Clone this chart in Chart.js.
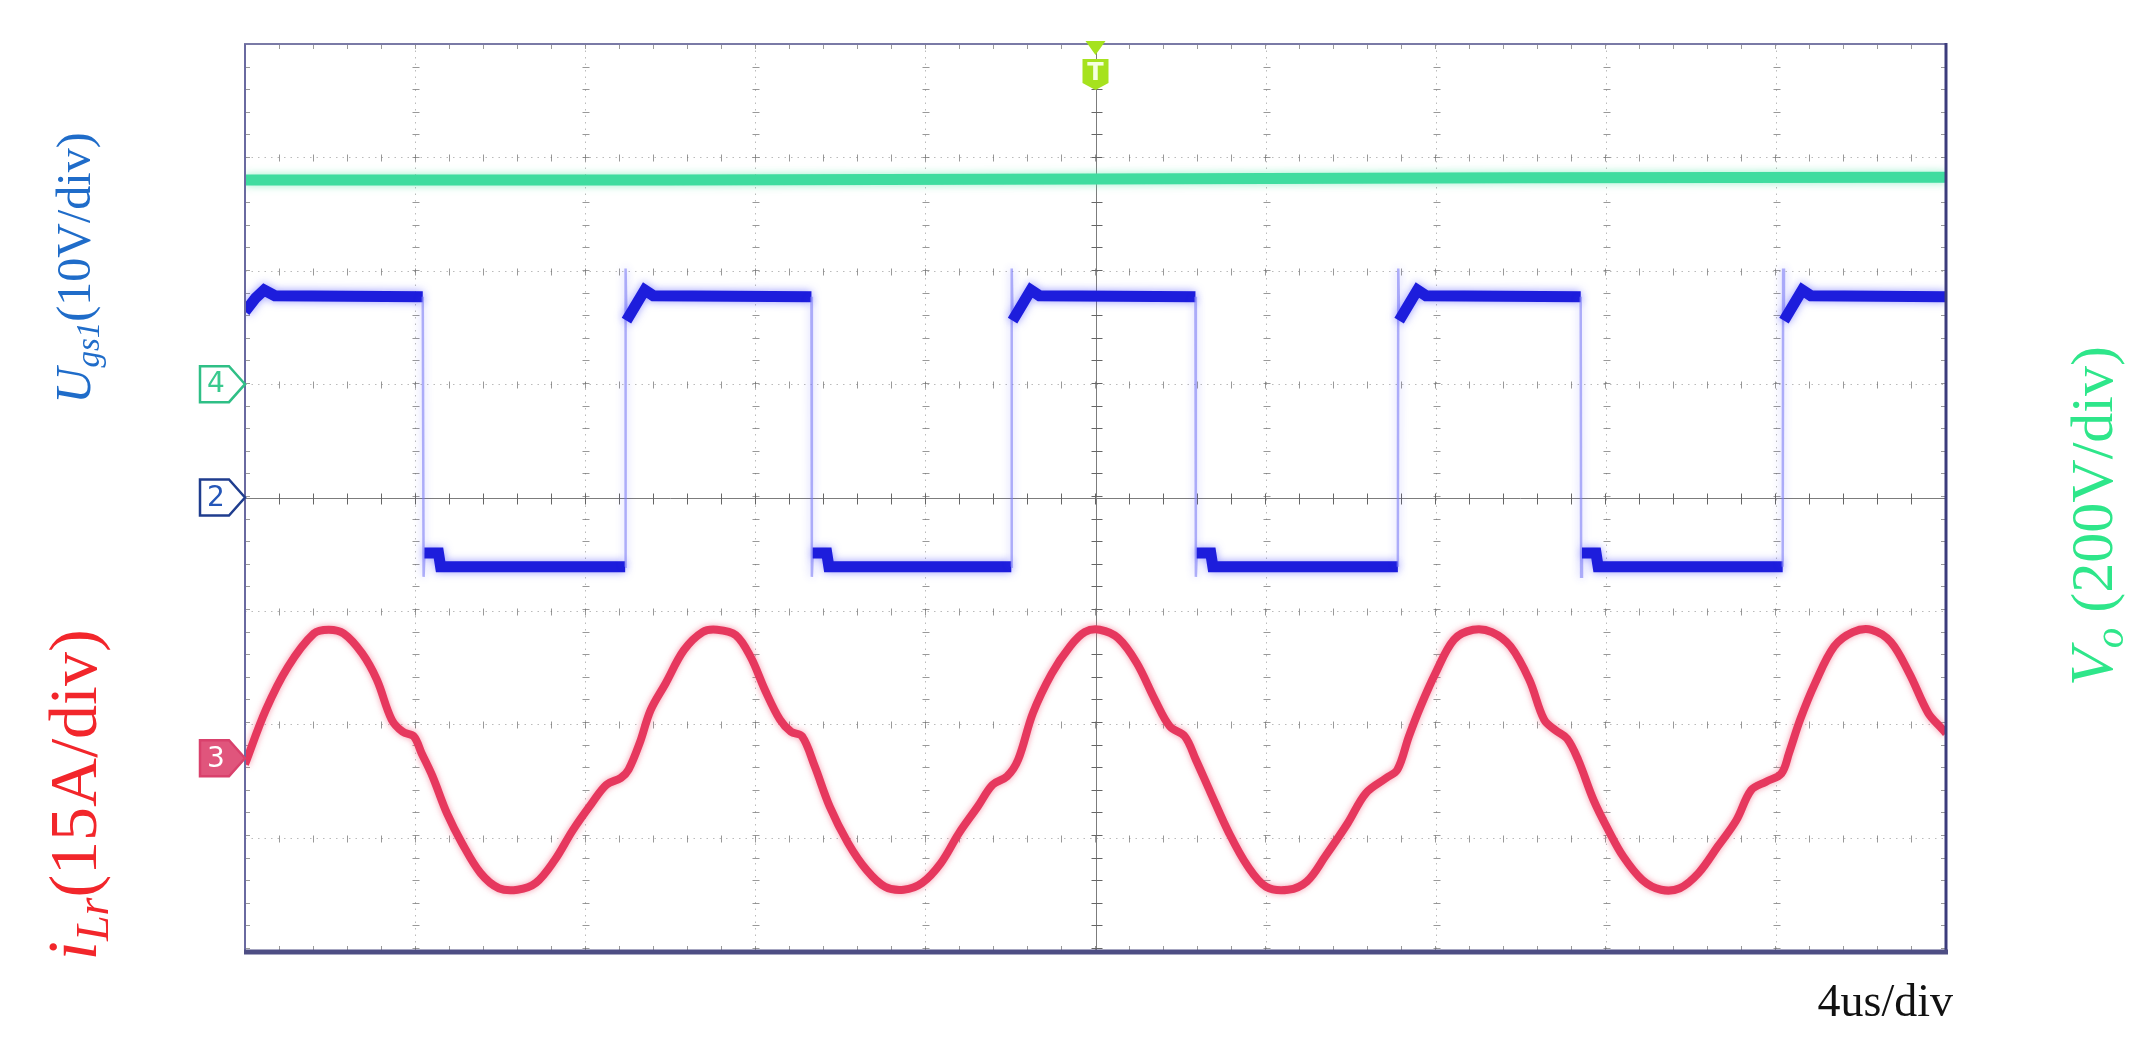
<!DOCTYPE html>
<html>
<head>
<meta charset="utf-8">
<script src="https://cdn.jsdelivr.net/npm/chart.js@4.4.1/dist/chart.umd.min.js"></script>
<style>
  html, body { margin: 0; padding: 0; background: #fff; }
  #wrap { position: relative; width: 2156px; height: 1060px; }
</style>
</head>
<body>
<div id="wrap"><canvas id="scope" width="2156" height="1060"></canvas></div>
<script>
// time base in us, 4us/div, trigger in the middle of the screen
const timeTicks = [-20, -16, -12, -8, -4, 0, 4, 8, 12, 16, 20];
// vertical divisions, read on the Ugs1 channel (10V/div)
const ugsTicks = [-40, -30, -20, -10, 0, 10, 20, 30, 40];

// CH2 - gate voltage Ugs1 (V)
const ugsTime = [-20.00, -19.75, -19.55, -19.30, -15.82, -15.80, -15.78, -15.45, -15.40,
  -11.06, -11.05, -11.03, -10.60, -10.40, -6.68, -6.67, -6.65, -6.32, -6.27,
  -1.98, -1.97, -1.95, -1.52, -1.32, 2.35, 2.36, 2.38, 2.71, 2.76,
  7.11, 7.12, 7.14, 7.57, 7.77, 11.41, 11.42, 11.44, 11.77, 11.82,
  16.16, 16.17, 16.19, 16.62, 16.82, 20.00];
const ugsVolt = [16.4, 17.6, 18.3, 17.8, 17.7, -7.0, -4.9, -4.9, -6.1,
  -6.1, 20.2, 15.6, 18.3, 17.8, 17.7, -7.0, -4.9, -4.9, -6.1,
  -6.1, 20.2, 15.6, 18.3, 17.8, 17.7, -7.0, -4.9, -4.9, -6.1,
  -6.1, 20.2, 15.6, 18.3, 17.8, 17.7, -7.0, -4.9, -4.9, -6.1,
  -6.1, 20.2, 15.6, 18.3, 17.8, 17.7];

// CH4 - output voltage Vo (V)
const voTime = [-20, -10, 0, 10, 20];
const voVolt = [360, 360, 362, 364, 365];

// CH3 - resonant inductor current iLr (A)
const ilrTime = [-20.0, -19.51, -18.99, -18.38, -18.03, -17.68, -17.25, -16.90, -16.55, -16.29,
  -16.03, -15.85, -15.59, -15.25, -14.90, -14.46, -14.03, -13.59, -13.16, -12.72,
  -12.29, -11.85, -11.50, -11.16, -10.98, -10.72, -10.46, -10.11, -9.68, -9.24,
  -8.90, -8.46, -8.11, -7.77, -7.42, -7.16, -6.90,
  -6.60, -6.25, -5.82, -5.38, -4.95, -4.51, -4.08, -3.64, -3.21, -2.77,
  -2.42, -2.08, -1.82, -1.47, -1.03, -0.60, -0.25, 0.10, 0.53, 0.97,
  1.40, 1.75, 2.10, 2.36, 2.71, 3.14, 3.58, 4.01, 4.53, 4.97,
  5.40, 5.93, 6.36,
  6.84, 7.10, 7.37, 7.64, 7.99, 8.43, 8.88, 9.32, 9.76, 10.20,
  10.55, 10.82, 11.09, 11.35, 11.71, 12.06, 12.41, 12.86, 13.30, 13.74,
  14.18, 14.63, 15.07, 15.42, 15.77, 16.13, 16.31, 16.57, 16.92, 17.37,
  17.81, 18.25, 18.70, 19.14, 19.58, 19.89, 20.00];
const ilrAmp = [-0.8, 6.4, 12.1, 16.5, 17.0, 16.5, 13.9, 10.4, 5.1, 3.5,
  2.9, 0.7, -2.4, -7.3, -11.2, -15.2, -17.2, -17.4, -16.5, -13.5,
  -9.5, -6.0, -3.5, -2.6, -1.5, 2.0, 6.4, 9.9, 14.3, 16.7,
  17.0, 16.3, 13.4, 9.0, 5.1, 3.5, 2.9,
  -1.1, -6.4, -11.2, -14.8, -17.0, -17.4, -16.5, -13.9, -9.9, -6.4,
  -3.5, -2.4, -0.2, 6.0, 11.2, 14.8, 16.7, 17.0, 15.9, 12.6,
  7.7, 4.2, 2.9, -0.2, -4.6, -9.9, -14.3, -17.0, -17.4, -16.3,
  -13.0, -8.6, -4.6,
  -2.6, -1.5, 2.9, 6.8, 11.2, 15.7, 17.0, 16.7, 14.8, 10.4,
  5.1, 3.7, 2.6, -0.2, -5.5, -9.5, -13.0, -16.1, -17.4, -17.2,
  -15.2, -11.7, -8.2, -4.2, -3.1, -2.0, 0.7, 5.1, 9.9, 14.8,
  16.7, 17.0, 15.4, 11.2, 6.0, 4.0, 3.3];

// volts (or amps) per division and ground marker position (divisions above centre)
const ugsPerDiv = 10, voPerDiv = 200, ilrPerDiv = 15;
const ugsGround = 0, voGround = 1, ilrGround = -2.3;

function pts(xs, ys) {
  return xs.map((t, i) => ({ x: t, y: ys[i] }));
}
function range(perDiv, ground) {
  return { min: (-4 - ground) * perDiv, max: (4 - ground) * perDiv };
}

function line(ctx, x1, y1, x2, y2) {
  ctx.beginPath();
  ctx.moveTo(x1, y1);
  ctx.lineTo(x2, y2);
  ctx.stroke();
}

// dotted scope graticule, minor ticks and the centre cross
const graticule = {
  id: 'graticule',
  beforeDatasetsDraw(chart) {
    const { ctx, chartArea: a, scales } = chart;
    const xs = timeTicks.map(v => Math.round(scales.x.getPixelForValue(v)) + 0.5);
    const ys = ugsTicks.map(v => Math.round(scales.yU.getPixelForValue(v)) + 0.5);
    const dx = Math.abs(xs[1] - xs[0]) / 5;
    const dy = Math.abs(ys[1] - ys[0]) / 5;
    const cx = xs[timeTicks.indexOf(0)];
    const cy = ys[ugsTicks.indexOf(0)];
    ctx.save();
    ctx.lineWidth = 1;

    ctx.strokeStyle = 'rgba(120,120,120,0.5)';
    ctx.setLineDash([1.5, 5]);
    xs.slice(1, -1).forEach(px => { if (px !== cx) line(ctx, px, a.top, px, a.bottom); });
    ys.slice(1, -1).forEach(py => { if (py !== cy) line(ctx, a.left, py, a.right, py); });
    ctx.setLineDash([]);

    // little crosses along the major lines
    ctx.strokeStyle = 'rgba(110,110,110,0.7)';
    xs.slice(1, -1).forEach(px => {
      for (let y = a.top; y <= a.bottom + 0.5; y += dy) line(ctx, px - 3, Math.round(y) + 0.5, px + 4, Math.round(y) + 0.5);
    });
    ys.slice(1, -1).forEach(py => {
      for (let x = a.left; x <= a.right + 0.5; x += dx) line(ctx, Math.round(x) + 0.5, py - 3, Math.round(x) + 0.5, py + 4);
    });
    // ticks on the frame
    for (let x = a.left; x <= a.right + 0.5; x += dx) {
      line(ctx, Math.round(x) + 0.5, a.top, Math.round(x) + 0.5, a.top + 5);
      line(ctx, Math.round(x) + 0.5, a.bottom - 5, Math.round(x) + 0.5, a.bottom);
    }
    for (let y = a.top; y <= a.bottom + 0.5; y += dy) {
      line(ctx, a.left, Math.round(y) + 0.5, a.left + 5, Math.round(y) + 0.5);
      line(ctx, a.right - 5, Math.round(y) + 0.5, a.right, Math.round(y) + 0.5);
    }

    // centre cross
    ctx.strokeStyle = '#7c7c7c';
    line(ctx, cx, a.top, cx, a.bottom);
    line(ctx, a.left, cy, a.right, cy);
    ctx.strokeStyle = '#666';
    for (let y = a.top; y <= a.bottom + 0.5; y += dy) line(ctx, cx - 5, Math.round(y) + 0.5, cx + 6, Math.round(y) + 0.5);
    for (let x = a.left; x <= a.right + 0.5; x += dx) line(ctx, Math.round(x) + 0.5, cy - 5, Math.round(x) + 0.5, cy + 6);
    ctx.restore();
  },
  beforeDatasetDraw(chart, args) {
    const ds = chart.data.datasets[args.index];
    chart.ctx.save();
    chart.ctx.shadowColor = ds.glow;
    chart.ctx.shadowBlur = ds.glowBlur;
  },
  afterDatasetDraw(chart) {
    chart.ctx.restore();
  },
  afterDatasetsDraw(chart) {
    const { ctx, chartArea: a } = chart;
    ctx.save();
    ctx.strokeStyle = '#7a7aa6';
    ctx.lineWidth = 2;
    line(ctx, a.left - 1, a.top, a.right + 1, a.top);
    ctx.strokeStyle = '#6a6aa0';
    line(ctx, a.left, a.top, a.left, a.bottom);
    ctx.strokeStyle = '#3c3c7c';
    ctx.lineWidth = 3;
    line(ctx, a.right, a.top - 1, a.right, a.bottom + 2);
    ctx.strokeStyle = '#4e4e84';
    ctx.lineWidth = 5;
    line(ctx, a.left - 1, a.bottom + 1, a.right + 2, a.bottom + 1);
    ctx.restore();
  }
};

function vText(ctx, cx, cy, parts) {
  ctx.save();
  ctx.translate(cx, cy);
  ctx.rotate(-Math.PI / 2);
  ctx.textBaseline = 'alphabetic';
  let total = 0;
  parts.forEach(p => { ctx.font = p.font; p.w = ctx.measureText(p.text).width; total += p.w; });
  let pos = -total / 2;
  parts.forEach(p => {
    ctx.font = p.font;
    ctx.fillStyle = p.color;
    ctx.fillText(p.text, pos, p.dy || 0);
    pos += p.w;
  });
  ctx.restore();
}

function marker(ctx, tipX, y, label, stroke, fill, textColor) {
  ctx.save();
  ctx.beginPath();
  ctx.moveTo(tipX - 45, y - 18);
  ctx.lineTo(tipX - 16, y - 18);
  ctx.lineTo(tipX, y);
  ctx.lineTo(tipX - 16, y + 18);
  ctx.lineTo(tipX - 45, y + 18);
  ctx.closePath();
  ctx.fillStyle = fill;
  ctx.fill();
  ctx.lineWidth = 2.5;
  ctx.strokeStyle = stroke;
  ctx.stroke();
  ctx.fillStyle = textColor;
  ctx.font = '28px "DejaVu Sans"';
  ctx.textAlign = 'center';
  ctx.textBaseline = 'middle';
  ctx.fillText(label, tipX - 29, y + 1);
  ctx.restore();
}

const annotations = {
  id: 'annotations',
  afterDraw(chart) {
    const { ctx, chartArea: a, scales } = chart;
    const serif = '"Liberation Serif", "DejaVu Serif", serif';

    // channel ground markers
    marker(ctx, a.left, scales.yV.getPixelForValue(0), '4', '#2fbf86', '#ffffff', '#39c98e');
    marker(ctx, a.left, scales.yU.getPixelForValue(0), '2', '#1f3d8e', '#ffffff', '#2456b8');
    marker(ctx, a.left, scales.yI.getPixelForValue(0), '3', '#d9416c', '#e0557c', '#ffffff');

    // trigger marker
    const tx = scales.x.getPixelForValue(0);
    ctx.save();
    ctx.fillStyle = '#a6e21e';
    ctx.beginPath();
    ctx.moveTo(tx - 10, a.top - 3);
    ctx.lineTo(tx + 10, a.top - 3);
    ctx.lineTo(tx, a.top + 11);
    ctx.closePath();
    ctx.fill();
    ctx.beginPath();
    ctx.moveTo(tx - 13, a.top + 15);
    ctx.lineTo(tx + 13, a.top + 15);
    ctx.lineTo(tx + 13, a.top + 39);
    ctx.lineTo(tx, a.top + 46);
    ctx.lineTo(tx - 13, a.top + 39);
    ctx.closePath();
    ctx.fill();
    ctx.fillStyle = '#f4ffe0';
    ctx.font = 'bold 24px "DejaVu Sans"';
    ctx.textAlign = 'center';
    ctx.textBaseline = 'middle';
    ctx.fillText('T', tx, a.top + 30);
    ctx.restore();

    // channel captions
    vText(ctx, 90, 268, [
      { text: 'U', font: `italic 50px ${serif}`, color: '#1f6cc9' },
      { text: 'gs1', font: `italic 33px ${serif}`, color: '#1f6cc9', dy: 9 },
      { text: '(10V/div)', font: `48px ${serif}`, color: '#1f6cc9' }
    ]);
    vText(ctx, 96, 795, [
      { text: 'i', font: `italic 70px ${serif}`, color: '#f2262b' },
      { text: 'Lr', font: `italic 46px ${serif}`, color: '#f2262b', dy: 12 },
      { text: '(15A/div)', font: `68px ${serif}`, color: '#f2262b' }
    ]);
    vText(ctx, 2112, 516, [
      { text: 'V', font: `italic 62px ${serif}`, color: '#2ee68a' },
      { text: 'o', font: `italic 41px ${serif}`, color: '#2ee68a', dy: 11 },
      { text: ' (200V/div)', font: `60px ${serif}`, color: '#2ee68a' }
    ]);

    ctx.save();
    ctx.font = `46px ${serif}`;
    ctx.fillStyle = '#111';
    ctx.textAlign = 'right';
    ctx.textBaseline = 'alphabetic';
    ctx.fillText('4us/div', 1953, 1016);
    ctx.restore();
  }
};

const thin = c => Math.abs(c.p1.parsed.x - c.p0.parsed.x) < 0.03;

new Chart(document.getElementById('scope'), {
  type: 'line',
  data: {
    datasets: [
      {
        label: 'Vo',
        data: pts(voTime, voVolt),
        yAxisID: 'yV',
        borderColor: '#3fdc9f',
        borderWidth: 11,
        glow: 'rgba(90,230,170,0.6)',
        glowBlur: 8,
        pointRadius: 0,
        tension: 0
      },
      {
        label: 'Ugs1',
        data: pts(ugsTime, ugsVolt),
        yAxisID: 'yU',
        borderColor: '#1d1ddc',
        borderWidth: 11,
        glow: 'rgba(70,70,255,0.55)',
        glowBlur: 8,
        pointRadius: 0,
        tension: 0,
        segment: {
          borderColor: c => thin(c) ? 'rgba(125,125,245,0.6)' : '#1d1ddc',
          borderWidth: c => thin(c) ? 2.5 : 11
        }
      },
      {
        label: 'iLr',
        data: pts(ilrTime, ilrAmp),
        yAxisID: 'yI',
        borderColor: '#e6385e',
        borderWidth: 8,
        glow: 'rgba(240,90,120,0.6)',
        glowBlur: 6,
        pointRadius: 0,
        tension: 0.35
      }
    ]
  },
  options: {
    responsive: false,
    animation: false,
    layout: { padding: { left: 245, right: 210, top: 44, bottom: 109 } },
    plugins: { legend: { display: false }, tooltip: { enabled: false } },
    scales: {
      x: { type: 'linear', min: timeTicks[0], max: timeTicks[timeTicks.length - 1], display: false },
      yU: { type: 'linear', ...range(ugsPerDiv, ugsGround), display: false },
      yV: { type: 'linear', ...range(voPerDiv, voGround), display: false },
      yI: { type: 'linear', ...range(ilrPerDiv, ilrGround), display: false }
    }
  },
  plugins: [graticule, annotations]
});
</script>
</body>
</html>
